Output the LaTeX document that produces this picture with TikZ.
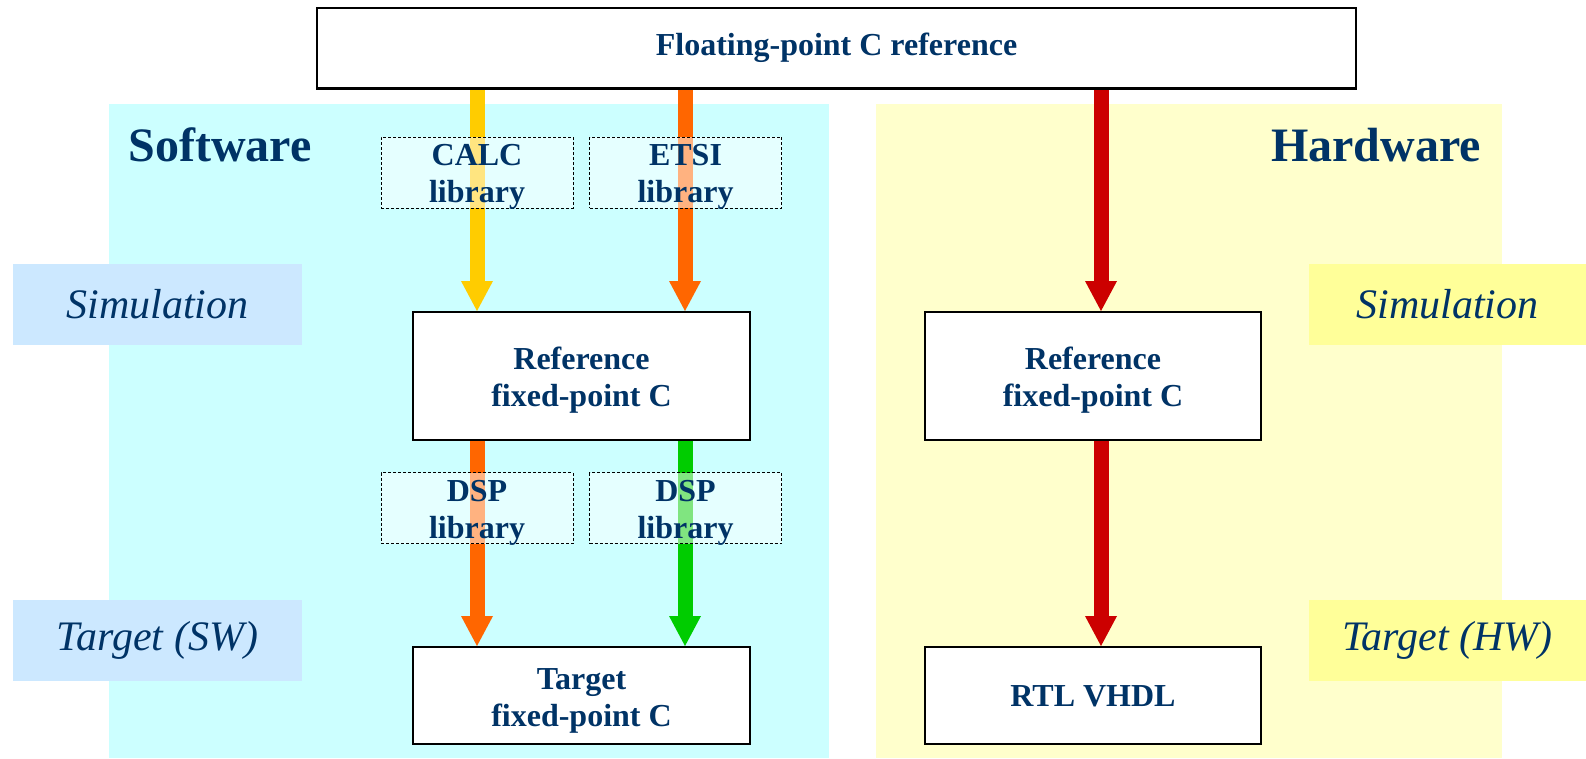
\documentclass[tikz,border=0pt]{standalone}
\usepackage{fontspec}
\setmainfont{Liberation Serif}
\usetikzlibrary{arrows.meta}
\definecolor{navy}{RGB}{0,51,102}
\definecolor{swpanel}{RGB}{204,255,255}
\definecolor{hwpanel}{RGB}{255,255,204}
\definecolor{swlabel}{RGB}{204,232,255}
\definecolor{hwlabel}{RGB}{255,255,153}
\definecolor{ayellow}{RGB}{255,204,0}
\definecolor{aorange}{RGB}{255,102,0}
\definecolor{agreen}{RGB}{0,204,0}
\definecolor{ared}{RGB}{204,0,0}
\tikzset{
  boxtext/.style={text=navy, align=center, font=\bfseries\fontsize{32}{37}\selectfont, inner sep=0pt},
  mainbox/.style={draw=black, line width=2pt, fill=white, inner sep=0pt},
  libbox/.style={draw=black, line width=0.9pt, dash pattern=on 3pt off 2pt, fill=white, fill opacity=0.5,
    inner sep=0pt, minimum width=192pt, minimum height=71pt},
  sidelabel/.style={text=navy, font=\itshape\fontsize{42}{48}\selectfont, inner sep=0pt,
    minimum width=289pt, minimum height=81pt},
  paneltitle/.style={text=navy, font=\bfseries\fontsize{48}{54}\selectfont, inner sep=0pt},
  flow/.style={line width=15pt, -{Triangle[width=32pt,length=30pt,line width=0pt]}},
}
\begin{document}
\begin{tikzpicture}[x=1pt,y=-1pt]
\useasboundingbox (0,0) rectangle (1586,758);
% panels
\fill[swpanel] (109,104) rectangle (829,758);
\fill[hwpanel] (876,104) rectangle (1502,758);
% side labels
\node[sidelabel, fill=swlabel] (simL) at (157.5,304.5) {Simulation};
\node[sidelabel, fill=swlabel] (tgtL) at (157.5,640) {Target (SW)};
\node[sidelabel, fill=hwlabel, minimum width=277pt] (simR) at (1447.5,304.5) {Simulation};
\node[sidelabel, fill=hwlabel, minimum width=277pt] (tgtR) at (1447.5,640) {Target (HW)};
% titles
\node[paneltitle] (sw) at (220,145) {Software};
\node[paneltitle] (hw) at (1376,145) {Hardware};
% main boxes
\node[mainbox, minimum width=1039pt, minimum height=80pt] (top) at (836.5,48) {};
\node[boxtext] (topT) at (836.5,48) {Floating-point C reference};
\node[mainbox, minimum width=337pt, minimum height=128pt] (refS) at (581.5,376) {};
\node[boxtext] (refST) at (581.5,380) {Reference\\fixed-point C};
\node[mainbox, minimum width=337pt, minimum height=97pt] (tgtS) at (581.5,695.5) {};
\node[boxtext] (tgtST) at (581.5,700.5) {Target\\fixed-point C};
\node[mainbox, minimum width=336pt, minimum height=128pt] (refH) at (1093,376) {};
\node[boxtext] (refHT) at (1093,380) {Reference\\fixed-point C};
\node[mainbox, minimum width=336pt, minimum height=97pt] (rtl) at (1093,695.5) {};
\node[boxtext] (rtlT) at (1093,696) {RTL VHDL};
% arrow columns
\coordinate (xa) at (477,0);
\coordinate (xb) at (685,0);
\coordinate (xc) at (1101,0);
% arrows
\draw[flow, ayellow] (top.south -| xa) -- (refS.north -| xa);
\draw[flow, aorange] (top.south -| xb) -- (refS.north -| xb);
\draw[flow, aorange] (refS.south -| xa) -- (tgtS.north -| xa);
\draw[flow, agreen] (refS.south -| xb) -- (tgtS.north -| xb);
\draw[flow, ared] (top.south -| xc) -- (refH.north -| xc);
\draw[flow, ared] (refH.south -| xc) -- (rtl.north -| xc);
% library boxes (semi-transparent over arrows)
\node[libbox] (calc) at (477,172.5) {};
\node[boxtext] (calcT) at (477,177) {CALC\\library};
\node[libbox] (etsi) at (685.5,172.5) {};
\node[boxtext] (etsiT) at (685.5,177) {ETSI\\library};
\node[libbox] (dsp1) at (477,508) {};
\node[boxtext] (dsp1T) at (477,512.5) {DSP\\library};
\node[libbox] (dsp2) at (685.5,508) {};
\node[boxtext] (dsp2T) at (685.5,512.5) {DSP\\library};
% redraw box borders over arrow ends
\draw[line width=2pt] (top.south west) -- (top.south east);
\end{tikzpicture}
\end{document}
